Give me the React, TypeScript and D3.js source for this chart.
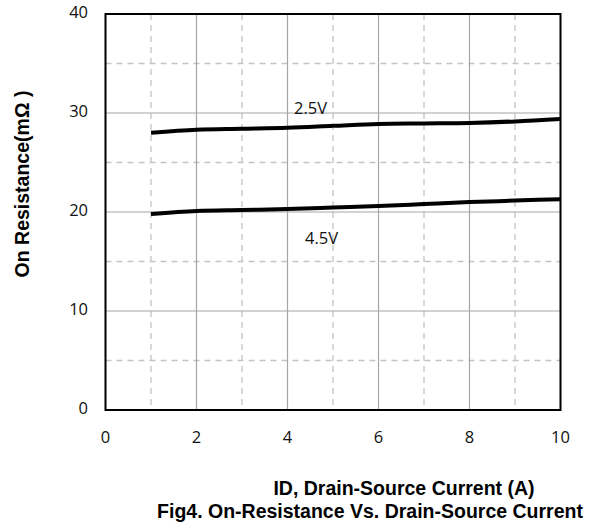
import React from "react";
import * as d3 from "d3";

// 電流 (A)
const currents = [1, 2, 3, 4, 5, 6, 7, 8, 9, 10];
// オン抵抗 (mΩ)
const rds25 = [28.0, 28.3, 28.4, 28.5, 28.7, 28.9, 28.95, 29.0, 29.15, 29.4];
const rds45 = [19.8, 20.1, 20.2, 20.3, 20.45, 20.6, 20.8, 21.0, 21.15, 21.3];
const xTickLabels = [0, 2, 4, 6, 8, 10];
const yTickLabels = [0, 10, 20, 30, 40];
const xMinor = [1, 3, 5, 7, 9];
const yMinor = [5, 15, 25, 35];

export default function App() {
  const width = 605,
    height = 526;
  const left = 105.5,
    right = 560.5,
    top = 14,
    bottom = 410;

  const xScale = d3.scaleLinear().domain([0, 10]).range([left, right]);
  const yScale = d3.scaleLinear().domain([0, 40]).range([bottom, top]);

  const line = d3
    .line<number>()
    .x((d, i) => xScale(currents[i]))
    .y((d) => yScale(d))
    .curve(d3.curveMonotoneX);

  const tickFont = "Open Sans";
  const boldFont = "Liberation Sans";

  return (
    <svg
      width={width}
      height={height}
      style={{ position: "absolute", left: 0, top: 0, background: "white" }}
    >
      {/* 補助目盛 (破線) */}
      <g stroke="#c4c4c4" strokeWidth={1.3} strokeDasharray="6,5">
        {xMinor.map((t) => (
          <line key={"xm" + t} x1={xScale(t)} x2={xScale(t)} y1={top} y2={bottom} />
        ))}
        {yMinor.map((t) => (
          <line key={"ym" + t} x1={left} x2={right} y1={yScale(t)} y2={yScale(t)} />
        ))}
      </g>
      {/* 主目盛 (実線) */}
      <g stroke="#a6a6a6" strokeWidth={1.2}>
        {xTickLabels.map((t) => (
          <line key={"xg" + t} x1={xScale(t)} x2={xScale(t)} y1={top} y2={bottom} />
        ))}
        {yTickLabels.map((t) => (
          <line key={"yg" + t} x1={left} x2={right} y1={yScale(t)} y2={yScale(t)} />
        ))}
      </g>

      {/* 曲線 */}
      <path d={line(rds25) || ""} fill="none" stroke="black" strokeWidth={4} />
      <path d={line(rds45) || ""} fill="none" stroke="black" strokeWidth={4} />

      {/* 枠 */}
      <rect
        x={left}
        y={top}
        width={right - left}
        height={bottom - top}
        fill="none"
        stroke="black"
        strokeWidth={2}
      />

      {/* 目盛ラベル */}
      <g fontFamily={tickFont} fontSize={16.5} fill="#111">
        {xTickLabels.map((t) => (
          <text key={"xt" + t} x={xScale(t)} y={443} textAnchor="middle">
            {t}
          </text>
        ))}
        {yTickLabels.map((t) => (
          <text
            key={"yt" + t}
            x={88}
            y={yScale(t)}
            textAnchor="end"
            dominantBaseline="middle"
          >
            {t}
          </text>
        ))}
        <text x={294} y={114}>2.5V</text>
        <text x={305} y={244}>4.5V</text>
      </g>

      {/* 軸タイトル */}
      <g fontFamily={boldFont} fontSize={19.5} fontWeight="bold" fill="black">
        <text x={404} y={495} textAnchor="middle">
          ID, Drain-Source Current (A)
        </text>
        <text x={370} y={518} textAnchor="middle">
          Fig4. On-Resistance Vs. Drain-Source Current
        </text>
        <text transform={`translate(29, 184) rotate(-90)`} textAnchor="middle">
          On Resistance(mΩ )
        </text>
      </g>
    </svg>
  );
}
